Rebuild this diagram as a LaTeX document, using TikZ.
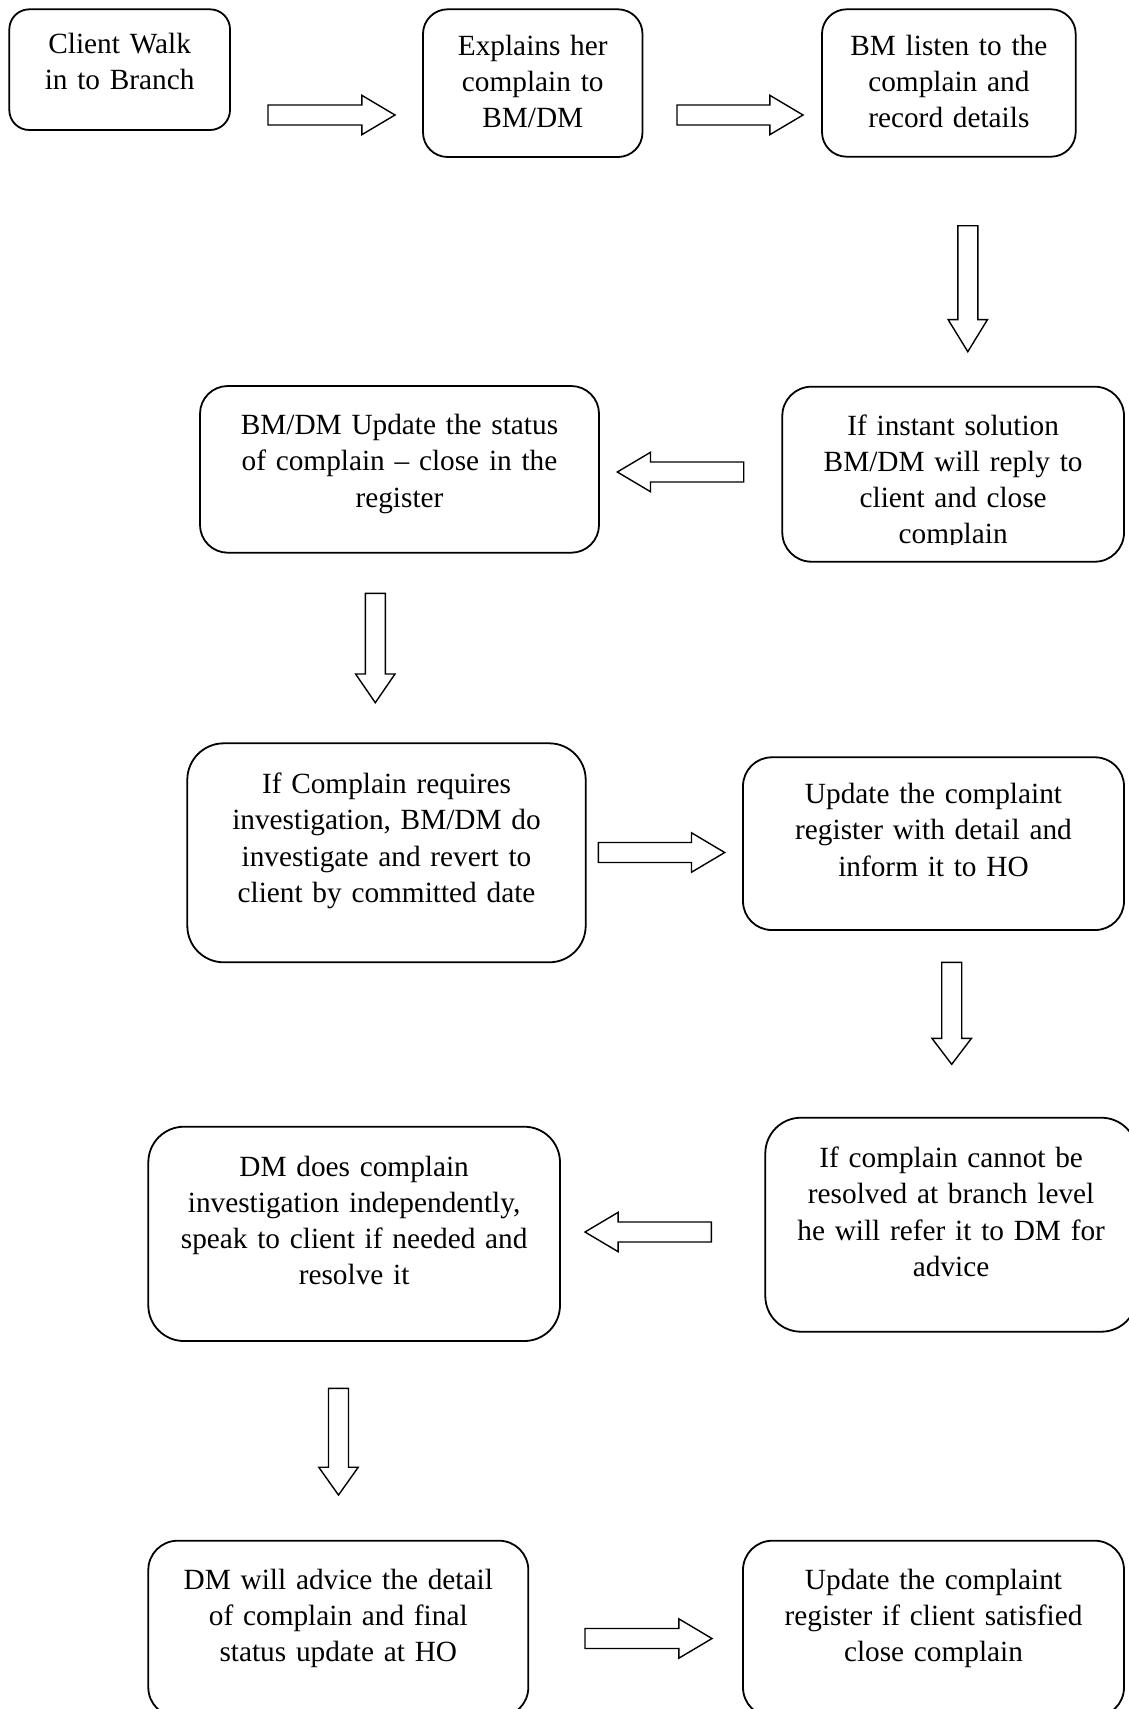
\documentclass[tikz,border=0pt]{standalone}
\usepackage{fontspec}
\setmainfont{Liberation Serif}
\usetikzlibrary{shapes.arrows}
\begin{document}
\begin{tikzpicture}[x=1pt,y=-1pt,
  box/.style={draw, line width=1.8pt, inner sep=0pt, outer sep=0pt},
  txt/.style={font=\fontsize{29.3}{36.2}\selectfont, text width=440pt, align=center, inner sep=0pt, anchor=base},
  barrow/.style={single arrow, draw, line width=1.4pt, inner sep=0pt, outer sep=0pt,
    text height=18.6pt, text depth=0pt, text width=0pt, anchor=tail,
    minimum width=38pt, single arrow head extend=9.7pt, single arrow tip angle=61.4}]
\useasboundingbox (0,0) rectangle (1128,1709);
% boxes
\node[box, rounded corners=20pt,   minimum width=220.7pt, minimum height=120.7pt] (b1)  at (119.65,69.65)  {};
\node[box, rounded corners=24.6pt, minimum width=219.5pt, minimum height=147.7pt] (b2)  at (532.75,83.15)  {};
\node[box, rounded corners=24.6pt, minimum width=253.7pt, minimum height=147.4pt] (b3)  at (948.85,83)     {};
\node[box, rounded corners=27.8pt, minimum width=399pt,   minimum height=166.7pt] (b4)  at (399.5,469.35)  {};
\node[box, rounded corners=29.2pt, minimum width=341.7pt, minimum height=175pt]   (b5)  at (953.15,474.2)  {};
\node[box, rounded corners=36.5pt, minimum width=398.4pt, minimum height=219pt]   (b6)  at (386.5,852.8)   {};
\node[box, rounded corners=28.8pt, minimum width=381pt,   minimum height=172.7pt] (b7)  at (933.5,843.65)  {};
\node[box, rounded corners=35.7pt, minimum width=371.7pt, minimum height=214pt]   (b8)  at (951.15,1224.7) {};
\node[box, rounded corners=35.7pt, minimum width=411.7pt, minimum height=214.3pt] (b9)  at (354.15,1233.85){};
\node[box, rounded corners=29.3pt, minimum width=380pt,   minimum height=176pt]   (b10) at (338.3,1628.7)  {};
\node[box, rounded corners=29.3pt, minimum width=381pt,   minimum height=176pt]   (b11) at (933.5,1628.7)  {};
% texts
\node[txt] (t1)  at (119.65,53.7)  {Client Walk\\in to Branch};
\node[txt] (t2)  at (532.75,55)    {Explains her\\complain to\\BM/DM};
\node[txt] (t3)  at (948.85,55.3)  {BM listen to the\\complain and\\record details};
\node[txt] (t4)  at (399.5,434.7)  {BM/DM Update the status\\of complain – close in the\\register};
\begin{scope}
\clip (782.3,386.7) rectangle (1124,544);
\node[txt] (t5)  at (953.15,435.3) {If instant solution\\BM/DM will reply to\\client and close\\complain};
\end{scope}
\node[txt] (t6)  at (386.5,793.7)  {If Complain requires\\investigation, BM/DM do\\investigate and revert to\\client by committed date};
\node[txt] (t7)  at (933.5,803.7)  {Update the complaint\\register with detail and\\inform it to HO};
\node[txt] (t8)  at (951.15,1167.7){If complain cannot be\\resolved at branch level\\he will refer it to DM for\\advice};
\node[txt] (t9)  at (354.15,1176.3){DM does complain\\investigation independently,\\speak to client if needed and\\resolve it};
\node[txt] (t10) at (338.3,1589.3) {DM will advice the detail\\of complain and final\\status update at HO};
\node[txt] (t11) at (933.5,1589.3) {Update the complaint\\register if client satisfied\\close complain};
% block arrows (placed by their tails)
\node[barrow, minimum height=127pt]                (a1)  at (268,115)      {};
\node[barrow, minimum height=126pt]                (a2)  at (677,115)      {};
\node[barrow, minimum height=126pt, rotate=-90, single arrow tip angle=63]     (a3)  at (967.8,225.7)  {};
\node[barrow, minimum height=126.4pt, rotate=180]  (a4)  at (743.7,472)    {};
\node[barrow, minimum height=109.4pt, rotate=-90, single arrow tip angle=68.9] (a5)  at (375.3,593.3)  {};
\node[barrow, minimum height=126.4pt]              (a6)  at (598.3,852.5)  {};
\node[barrow, minimum height=102pt, rotate=-90, single arrow tip angle=74.5]   (a7)  at (951.7,962.3)  {};
\node[barrow, minimum height=126.3pt, rotate=180]  (a8)  at (711.3,1232)   {};
\node[barrow, minimum height=106.7pt, rotate=-90, single arrow tip angle=70.8] (a9)  at (338.5,1388.3) {};
\node[barrow, minimum height=127pt]                (a10) at (585,1638.5)   {};
\end{tikzpicture}
\end{document}
